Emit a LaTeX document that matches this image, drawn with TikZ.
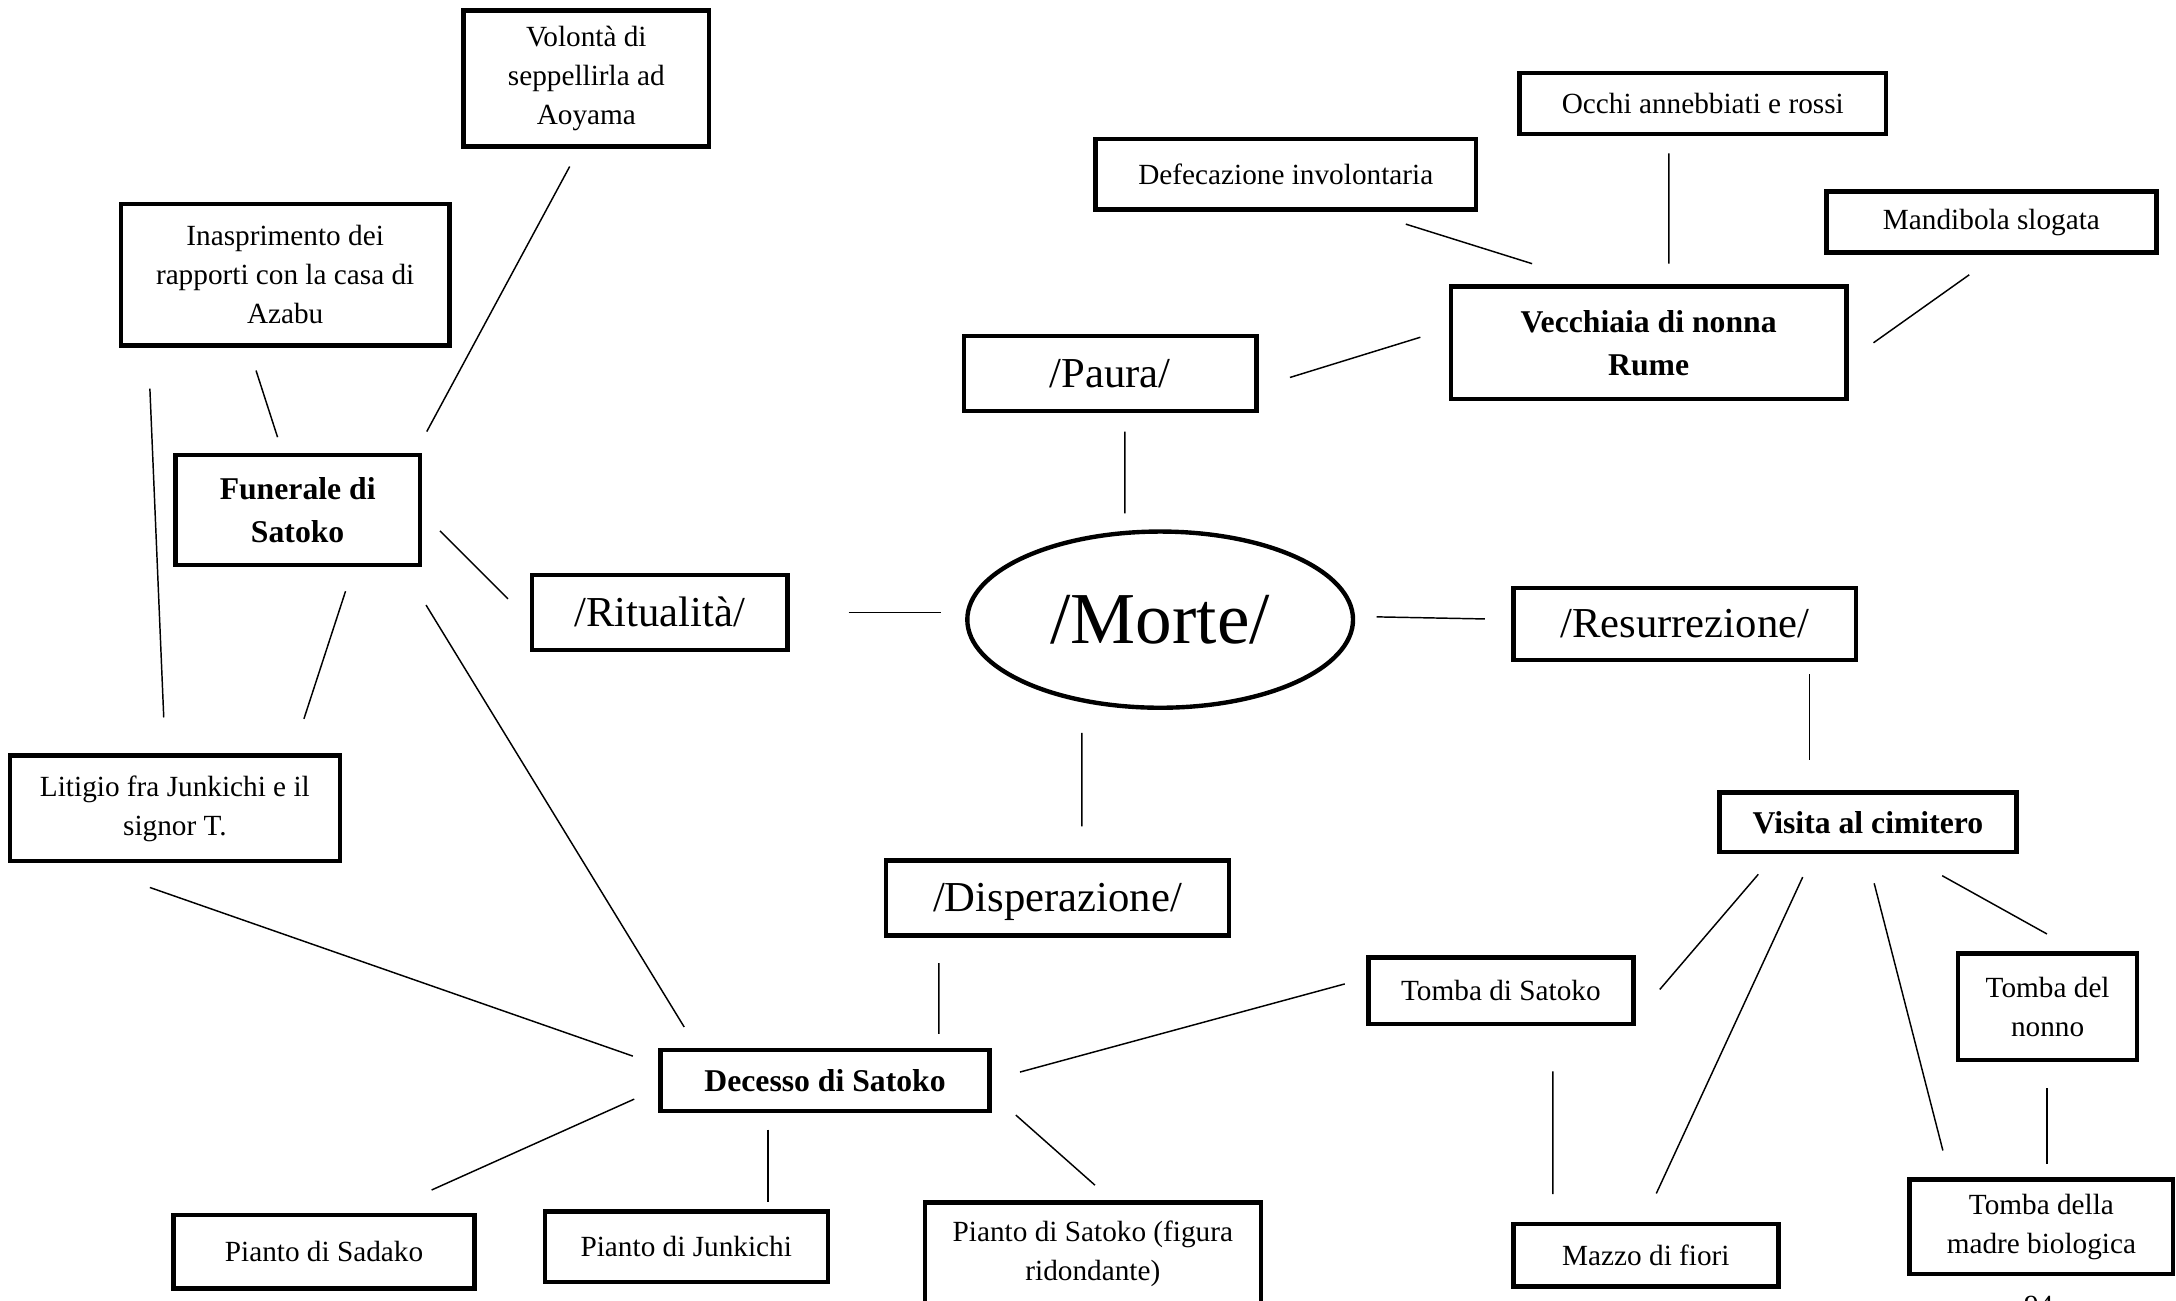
\documentclass[tikz,border=0pt]{standalone}
\usepackage{fontspec}
\setmainfont{Liberation Serif}
\usepackage{tikz}
\usetikzlibrary{calc}
\usetikzlibrary{shapes.geometric}

\begin{document}
\begin{tikzpicture}[x=0.02cm,y=-0.02cm,
	box/.style={draw,line width=1.8pt,inner sep=0pt,align=center,font=\fontsize{12}{16}\selectfont},
	keybox/.style={box,font=\fontsize{13}{17.6}\selectfont\bfseries},
	topic/.style={box,text height=13.5pt,text depth=2pt,font=\fontsize{17.5}{21}\selectfont},
	link/.style={line width=0.6pt}]
		\useasboundingbox (0,0) rectangle (1568,937);
		\clip (0,0) rectangle (1568,937);
		\node[box,minimum width=3.54cm,minimum height=1.96cm] (vol) at (422.5,56.5) {Volontà di\\seppellirla ad\\Aoyama};
		\node[box,minimum width=4.74cm,minimum height=2.04cm] (ina) at (205.5,198) {Inasprimento dei\\rapporti con la casa di\\Azabu};
		\node[keybox,minimum width=3.52cm,minimum height=1.58cm] (fun) at (214.5,367.5) {Funerale di\\Satoko};
		\node[topic,minimum width=3.68cm,minimum height=1.08cm] (rit) at (475.5,441.5) {/Ritualità/};
		\node[box,minimum width=4.76cm,minimum height=1.52cm] (lit) at (126,582.5) {Litigio fra Junkichi e il\\signor T.};
		\node[topic,minimum width=4.22cm,minimum height=1.08cm] (pau) at (800,269) {/Paura/};
		\node[ellipse,draw,line width=1.8pt,inner sep=0pt,minimum width=5.56cm,minimum height=2.54cm,font=\fontsize{30}{36}\selectfont] (mor) at (836,446.5) {/Morte/};
		\node[topic,minimum width=4.94cm,minimum height=1.04cm] (res) at (1214,449.5) {/Resurrezione/};
		\node[box,minimum width=5.48cm,minimum height=1.02cm] (def) at (926.5,125.5) {Defecazione involontaria};
		\node[box,minimum width=5.28cm,minimum height=0.88cm] (occ) at (1227,74.5) {Occhi annebbiati e rossi};
		\node[box,minimum width=4.76cm,minimum height=0.88cm] (man) at (1435,160) {Mandibola slogata};
		\node[keybox,minimum width=5.70cm,minimum height=1.62cm] (vec) at (1188,247) {Vecchiaia di nonna\\Rume};
		\node[keybox,minimum width=4.28cm,minimum height=0.86cm] (vis) at (1346,592.5) {Visita al cimitero};
		\node[topic,minimum width=4.94cm,minimum height=1.08cm] (dis) at (762,647) {/Disperazione/};
		\node[keybox,minimum width=4.74cm,minimum height=0.88cm] (dec) at (594.5,778.5) {Decesso di Satoko};
		\node[box,minimum width=3.82cm,minimum height=0.96cm] (tsa) at (1081.5,714) {Tomba di Satoko};
		\node[box,minimum width=2.58cm,minimum height=1.54cm] (tno) at (1475.5,725.5) {Tomba del\\nonno};
		\node[box,minimum width=4.34cm,minimum height=1.06cm] (psa) at (233.5,902) {Pianto di Sadako};
		\node[box,minimum width=4.08cm,minimum height=1.02cm] (pju) at (494.5,898.5) {Pianto di Junkichi};
		\node[box,minimum width=4.84cm,minimum height=1.48cm] (pst) at (787.5,903.5) {Pianto di Satoko (figura\\ridondante)};
		\node[box,minimum width=3.82cm,minimum height=0.90cm] (maz) at (1186,904.5) {Mazzo di fiori};
		\node[box,minimum width=3.80cm,minimum height=1.36cm] (tma) at (1471,884) {Tomba della\\madre biologica};
		\node[font=\fontsize{12}{16}\selectfont] (pg) at (1469,941) {94};
		\draw[link] ($(vol)+(-12,63.5)$) -- ($(fun)+(93,-56.5)$);
		\draw[link] ($(ina)+(-21,69)$) -- ($(fun)+(-14.5,-52.5)$);
		\draw[link] ($(ina)+(-97.5,82)$) -- ($(lit)+(-8,-65.5)$);
		\draw[link] ($(fun)+(34.5,58.5)$) -- ($(lit)+(93,-64.5)$);
		\draw[link] ($(fun)+(102.5,15)$) -- ($(rit)+(-109.5,-10)$);
		\draw[link] ($(fun)+(92.5,68.5)$) -- ($(dec)+(-101.5,-38.5)$);
		\draw[link] ($(rit)+(136,0)$) -- ($(mor)+(-158,-5)$);
		\draw[link] ($(pau)+(10.5,42)$) -- ($(mor)+(-25.5,-76.5)$);
		\draw[link] ($(pau)+(129.5,3)$) -- ($(vec)+(-164.5,-4)$);
		\draw[link] ($(def)+(86.5,36)$) -- ($(vec)+(-84,-57)$);
		\draw[link] ($(occ)+(-24.5,36)$) -- ($(vec)+(14.5,-57)$);
		\draw[link] ($(man)+(-16,38)$) -- ($(vec)+(162,0)$);
		\draw[link] ($(mor)+(156,-2)$) -- ($(res)+(-144,-3.5)$);
		\draw[link] ($(res)+(90,36.5)$) -- ($(vis)+(-42,-45)$);
		\draw[link] ($(mor)+(-56.5,81.5)$) -- ($(dis)+(17.5,-51.5)$);
		\draw[link] ($(dis)+(-85.5,47)$) -- ($(dec)+(82,-33.5)$);
		\draw[link] ($(lit)+(-18,57)$) -- ($(dec)+(-138.5,-17.5)$);
		\draw[link] ($(dec)+(140.5,-6)$) -- ($(tsa)+(-112.5,-5)$);
		\draw[link] ($(dec)+(-137.5,13.5)$) -- ($(psa)+(77.5,-44.5)$);
		\draw[link] ($(dec)+(-41,35.5)$) -- ($(pju)+(59,-32.5)$);
		\draw[link] ($(dec)+(137.5,25)$) -- ($(pst)+(1.5,-49.5)$);
		\draw[link] ($(vis)+(-79,37.5)$) -- ($(tsa)+(114.5,-1)$);
		\draw[link] ($(vis)+(-47,39.5)$) -- ($(maz)+(7.5,-44.5)$);
		\draw[link] ($(vis)+(4.5,44)$) -- ($(tma)+(-71,-55)$);
		\draw[link] ($(vis)+(53.5,38.5)$) -- ($(tno)+(-0.5,-52.5)$);
		\draw[link] ($(tsa)+(37.5,58)$) -- ($(maz)+(-67,-44)$);
		\draw[link] ($(tno)+(-0.5,58.5)$) -- ($(tma)+(4,-45.5)$);
	\end{tikzpicture}
\end{document}
